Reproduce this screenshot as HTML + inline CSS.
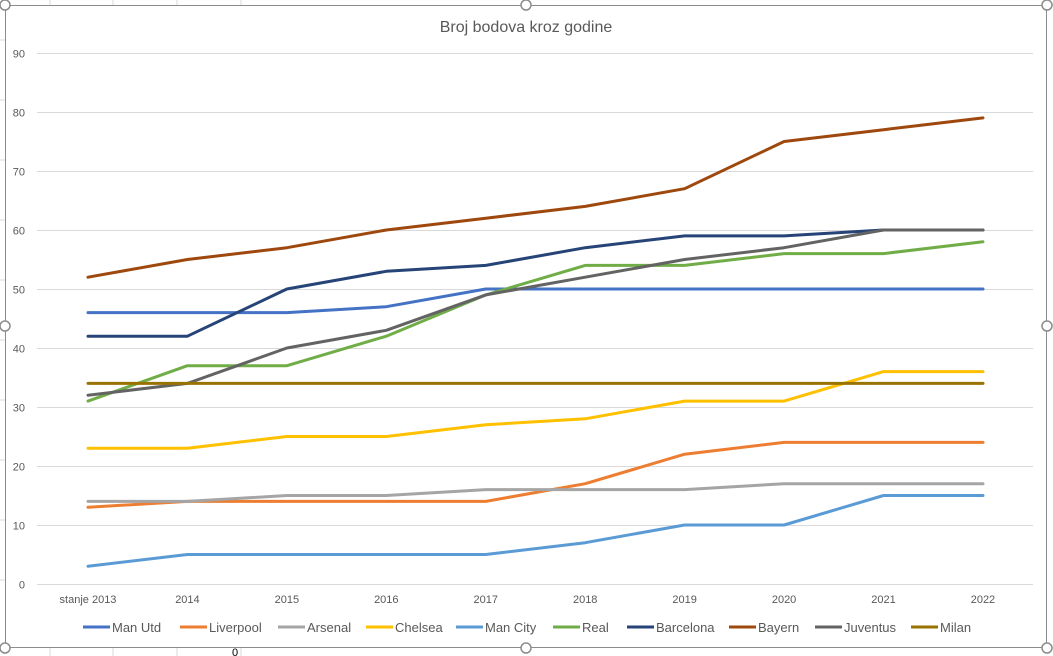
<!DOCTYPE html>
<html><head><meta charset="utf-8"><style>body{margin:0;background:#fff;}svg{display:block}</style></head>
<body>
<svg width="1053" height="656" viewBox="0 0 1053 656" xmlns="http://www.w3.org/2000/svg" font-family="Liberation Sans, sans-serif">
<rect width="1053" height="656" fill="#fff"/>
<g stroke="#d9d9d9" stroke-width="1">
<line x1="50" y1="0" x2="50" y2="5"/><line x1="113" y1="0" x2="113" y2="5"/><line x1="177" y1="0" x2="177" y2="5"/><line x1="241" y1="0" x2="241" y2="5"/>
<line x1="50" y1="648" x2="50" y2="656"/><line x1="113" y1="648" x2="113" y2="656"/><line x1="177" y1="648" x2="177" y2="656"/><line x1="241" y1="648" x2="241" y2="656"/>
<line x1="0" y1="40" x2="5" y2="40"/><line x1="0" y1="100" x2="5" y2="100"/><line x1="0" y1="160" x2="5" y2="160"/><line x1="0" y1="220" x2="5" y2="220"/><line x1="0" y1="280" x2="5" y2="280"/><line x1="0" y1="340" x2="5" y2="340"/><line x1="0" y1="400" x2="5" y2="400"/><line x1="0" y1="460" x2="5" y2="460"/><line x1="0" y1="520" x2="5" y2="520"/><line x1="0" y1="580" x2="5" y2="580"/>
</g>
<rect x="5.5" y="5.5" width="1041" height="642" fill="#fff" stroke="#8c8c8c" stroke-width="1"/>
<text x="526" y="32" font-size="16" fill="#595959" text-anchor="middle">Broj bodova kroz godine</text>
<g stroke="#d9d9d9" stroke-width="1" id="grid"></g>
<g font-size="11" fill="#595959" text-anchor="end" id="ylab"></g>
<g font-size="11" fill="#595959" text-anchor="middle" id="xlab"></g>
<g fill="none" stroke-width="3" stroke-linejoin="round" stroke-linecap="round" id="series"></g>
<g font-size="13" fill="#595959" id="legend"></g>
<g fill="#fff" stroke="#8c8c8c" stroke-width="1.5">
<circle cx="5" cy="5" r="5"/><circle cx="526" cy="5" r="5"/><circle cx="1047" cy="5" r="5"/>
<circle cx="5" cy="326" r="5"/><circle cx="1047" cy="326" r="5"/>
<circle cx="5" cy="648" r="5"/><circle cx="526" cy="648" r="5"/><circle cx="1047" cy="648" r="5"/>
</g>
<text x="235" y="656" font-size="11" fill="#000" text-anchor="middle">0</text>
<script>
var NS="http://www.w3.org/2000/svg";
function el(p,t,a,txt){var e=document.createElementNS(NS,t);for(var k in a)e.setAttribute(k,a[k]);if(txt!=null)e.textContent=txt;document.getElementById(p).appendChild(e);}
function Y(v){return 584-v*5.9;}
function X(i){return 88+i*99.44;}
for(var v=0;v<=90;v+=10){var y=Y(v)+0.5;el("grid","line",{x1:37,y1:y,x2:1033,y2:y});el("ylab","text",{x:25,y:y+4},v);}
var xl=["stanje 2013","2014","2015","2016","2017","2018","2019","2020","2021","2022"];
xl.forEach(function(t,i){el("xlab","text",{x:X(i),y:603},t);});
var S=[
["Man Utd","#4472c4",[46,46,46,47,50,50,50,50,50,50],83],
["Liverpool","#ed7d31",[13,14,14,14,14,17,22,24,24,24],180],
["Arsenal","#a5a5a5",[14,14,15,15,16,16,16,17,17,17],278],
["Chelsea","#ffc000",[23,23,25,25,27,28,31,31,36,36],366],
["Man City","#5b9bd5",[3,5,5,5,5,7,10,10,15,15],456],
["Real","#70ad47",[31,37,37,42,49,54,54,56,56,58],553],
["Barcelona","#264478",[42,42,50,53,54,57,59,59,60,60],627],
["Bayern","#9e480e",[52,55,57,60,62,64,67,75,77,79],729],
["Juventus","#636363",[32,34,40,43,49,52,55,57,60,60],815],
["Milan","#997300",[34,34,34,34,34,34,34,34,34,34],911]];
S.forEach(function(s){var p=s[2].map(function(v,i){return X(i).toFixed(1)+","+Y(v).toFixed(1);}).join(" ");
el("series","polyline",{points:p,stroke:s[1]});
el("legend","line",{x1:s[3],y1:627,x2:s[3]+27,y2:627,stroke:s[1],"stroke-width":3});
el("legend","text",{x:s[3]+29,y:632},s[0]);});
</script>
</svg>
</body></html>
